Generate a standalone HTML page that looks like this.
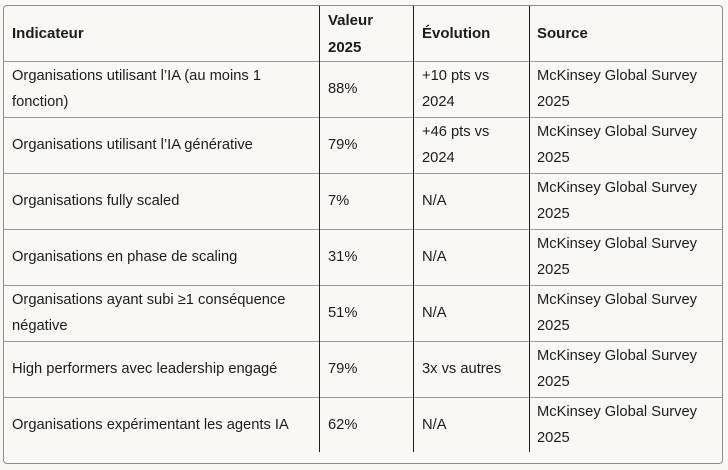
<!DOCTYPE html>
<html>
<head>
<meta charset="utf-8">
<style>
  html,body{margin:0;padding:0;}
  body{width:728px;height:470px;background:#f8f7f4;position:relative;overflow:hidden;
       font-family:"Liberation Sans","DejaVu Sans",sans-serif;color:#1c1c1c;}
  .box{position:absolute;left:3px;top:5px;width:720px;height:459px;box-sizing:border-box;
       border:1px solid #8c8c8c;border-radius:4px;background:#f9f8f5;}
  .h{position:absolute;left:4px;width:718px;height:1px;background:#9a9a9a;}
  .v{position:absolute;top:6px;height:446px;width:1px;background:#1e1e1e;}
  .c{position:absolute;height:56px;display:flex;align-items:center;white-space:nowrap;
     font-size:14.7px;line-height:26px;}
  .hd{font-weight:bold;font-size:15px;line-height:27px;}
</style>
</head>
<body>
<div class="box"></div>

<div class="h" style="top:61px"></div>
<div class="h" style="top:117px"></div>
<div class="h" style="top:173px"></div>
<div class="h" style="top:229px"></div>
<div class="h" style="top:285px"></div>
<div class="h" style="top:341px"></div>
<div class="h" style="top:397px"></div>

<div class="v" style="left:319px"></div>
<div class="v" style="left:413px"></div>
<div class="v" style="left:529px"></div>

<!-- header -->
<div class="c hd" style="top:5px;left:12px">Indicateur</div>
<div class="c hd" style="top:6px;left:328px">Valeur<br>2025</div>
<div class="c hd" style="top:5px;left:422px">Évolution</div>
<div class="c hd" style="top:5px;left:537px">Source</div>

<!-- row 1 -->
<div class="c" style="top:61px;left:12px">Organisations utilisant l’IA (au moins 1<br>fonction)</div>
<div class="c" style="top:61px;left:328px">88%</div>
<div class="c" style="top:61px;left:422px">+10 pts vs<br>2024</div>
<div class="c" style="top:61px;left:537px">McKinsey Global Survey<br>2025</div>

<!-- row 2 -->
<div class="c" style="top:117px;left:12px">Organisations utilisant l’IA générative</div>
<div class="c" style="top:117px;left:328px">79%</div>
<div class="c" style="top:117px;left:422px">+46 pts vs<br>2024</div>
<div class="c" style="top:117px;left:537px">McKinsey Global Survey<br>2025</div>

<!-- row 3 -->
<div class="c" style="top:173px;left:12px">Organisations fully scaled</div>
<div class="c" style="top:173px;left:328px">7%</div>
<div class="c" style="top:173px;left:422px">N/A</div>
<div class="c" style="top:173px;left:537px">McKinsey Global Survey<br>2025</div>

<!-- row 4 -->
<div class="c" style="top:229px;left:12px">Organisations en phase de scaling</div>
<div class="c" style="top:229px;left:328px">31%</div>
<div class="c" style="top:229px;left:422px">N/A</div>
<div class="c" style="top:229px;left:537px">McKinsey Global Survey<br>2025</div>

<!-- row 5 -->
<div class="c" style="top:285px;left:12px">Organisations ayant subi ≥1 conséquence<br>négative</div>
<div class="c" style="top:285px;left:328px">51%</div>
<div class="c" style="top:285px;left:422px">N/A</div>
<div class="c" style="top:285px;left:537px">McKinsey Global Survey<br>2025</div>

<!-- row 6 -->
<div class="c" style="top:341px;left:12px">High performers avec leadership engagé</div>
<div class="c" style="top:341px;left:328px">79%</div>
<div class="c" style="top:341px;left:422px">3x vs autres</div>
<div class="c" style="top:341px;left:537px">McKinsey Global Survey<br>2025</div>

<!-- row 7 -->
<div class="c" style="top:397px;left:12px">Organisations expérimentant les agents IA</div>
<div class="c" style="top:397px;left:328px">62%</div>
<div class="c" style="top:397px;left:422px">N/A</div>
<div class="c" style="top:397px;left:537px">McKinsey Global Survey<br>2025</div>
</body>
</html>
